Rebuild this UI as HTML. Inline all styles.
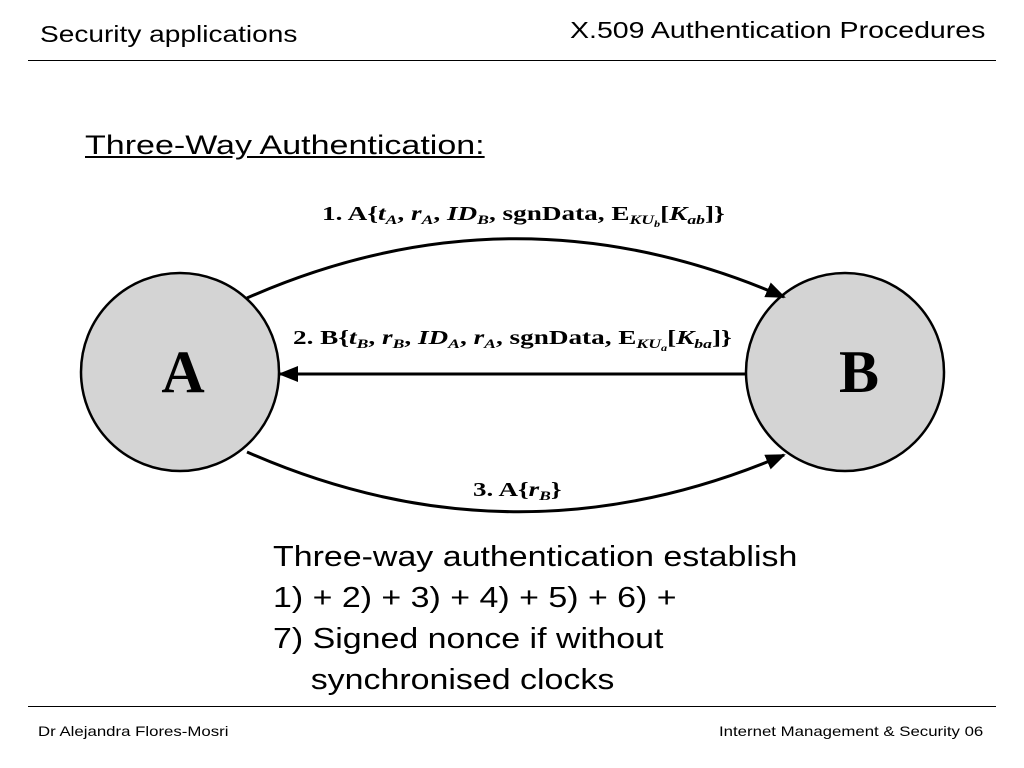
<!DOCTYPE html>
<html><head><style>
body{margin:0;width:1024px;height:768px;background:#fff;position:relative;overflow:hidden;font-family:"Liberation Sans",sans-serif;}
.t{position:absolute;white-space:nowrap;color:#000;}
</style></head><body>
<div class="t" style="left:40px;top:21px;font-size:23px;transform:scaleX(1.22);transform-origin:0 0;">Security applications</div>
<div class="t" style="left:570px;top:17px;font-size:23px;transform:scaleX(1.24);transform-origin:0 0;">X.509 Authentication Procedures</div>
<div style="position:absolute;left:28px;top:60px;width:968px;height:1px;background:#000"></div>
<div class="t" style="left:85px;top:130px;font-size:27px;text-decoration:underline;transform:scaleX(1.26);transform-origin:0 0;">Three-Way Authentication:</div>
<svg style="position:absolute;left:0;top:0" width="1024" height="768">
<defs><marker id="ah" markerWidth="20" markerHeight="16" refX="18" refY="8" orient="auto" markerUnits="userSpaceOnUse" viewBox="0 0 20 16"><path d="M0,0 L20,8 L0,16 z" fill="#000"/></marker></defs>
<circle cx="180" cy="372" r="99" fill="#d4d4d4" stroke="#000" stroke-width="2.5"/>
<circle cx="845" cy="372" r="99" fill="#d4d4d4" stroke="#000" stroke-width="2.5"/>
<text x="183" y="392" font-family="Liberation Serif" font-weight="bold" font-size="60" text-anchor="middle">A</text>
<text x="859" y="392" font-family="Liberation Serif" font-weight="bold" font-size="60" text-anchor="middle">B</text>
<path d="M247,298 Q515,180 784,297" fill="none" stroke="#000" stroke-width="3" marker-end="url(#ah)"/>
<path d="M745,374 L280,374" fill="none" stroke="#000" stroke-width="3" marker-end="url(#ah)"/>
<path d="M247,452 Q515,570 784,455" fill="none" stroke="#000" stroke-width="3" marker-end="url(#ah)"/>
<g font-family="Liberation Serif" font-weight="bold" font-size="20">
<text transform="translate(322,220) scale(1.36,1)">1. A{<tspan font-style="italic">t</tspan><tspan font-style="italic" font-size="13" dy="4">A</tspan><tspan dy="-4">, </tspan><tspan font-style="italic">r</tspan><tspan font-style="italic" font-size="13" dy="4">A</tspan><tspan dy="-4">, </tspan><tspan font-style="italic">ID</tspan><tspan font-style="italic" font-size="13" dy="4">B</tspan><tspan dy="-4">, sgnData, E</tspan><tspan font-style="italic" font-size="13" dy="4">KU</tspan><tspan font-style="italic" font-size="9" dy="3">b</tspan><tspan dy="-7">[</tspan><tspan font-style="italic">K</tspan><tspan font-style="italic" font-size="13" dy="4">ab</tspan><tspan dy="-4">]}</tspan></text>
<text transform="translate(293,344) scale(1.36,1)">2. B{<tspan font-style="italic">t</tspan><tspan font-style="italic" font-size="13" dy="4">B</tspan><tspan dy="-4">, </tspan><tspan font-style="italic">r</tspan><tspan font-style="italic" font-size="13" dy="4">B</tspan><tspan dy="-4">, </tspan><tspan font-style="italic">ID</tspan><tspan font-style="italic" font-size="13" dy="4">A</tspan><tspan dy="-4">, </tspan><tspan font-style="italic">r</tspan><tspan font-style="italic" font-size="13" dy="4">A</tspan><tspan dy="-4">, sgnData, E</tspan><tspan font-style="italic" font-size="13" dy="4">KU</tspan><tspan font-style="italic" font-size="9" dy="3">a</tspan><tspan dy="-7">[</tspan><tspan font-style="italic">K</tspan><tspan font-style="italic" font-size="13" dy="4">ba</tspan><tspan dy="-4">]}</tspan></text>
<text transform="translate(473,496) scale(1.35,1)">3. A{<tspan font-style="italic">r</tspan><tspan font-style="italic" font-size="13" dy="4">B</tspan><tspan dy="-4">}</tspan></text>
</g>
</svg>
<div class="t" style="left:273px;top:537px;font-size:29px;line-height:41px;transform:scaleX(1.17);transform-origin:0 0;">Three-way authentication establish<br>1) + 2) + 3) + 4) + 5) + 6) +<br>7) Signed nonce if without<br>&nbsp;&nbsp;&nbsp;&nbsp;synchronised clocks</div>
<div style="position:absolute;left:28px;top:706px;width:968px;height:1px;background:#000"></div>
<div class="t" style="left:38px;top:723px;font-size:14px;transform:scaleX(1.2);transform-origin:0 0;">Dr Alejandra Flores-Mosri</div>
<div class="t" style="left:719px;top:723px;font-size:14px;transform:scaleX(1.2);transform-origin:0 0;">Internet Management &amp; Security 06</div>
</body></html>
